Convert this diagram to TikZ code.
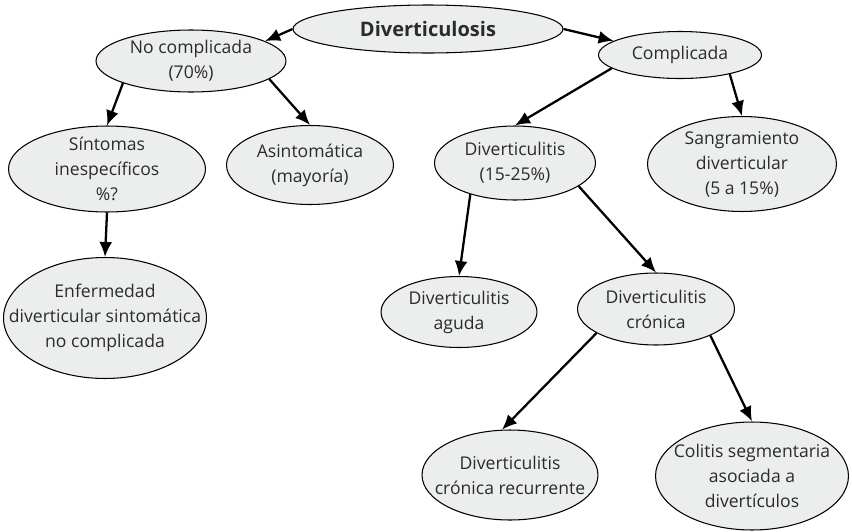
\documentclass[tikz,border=0pt]{standalone}
\usepackage{fontspec}
\setmainfont{Open Sans}
\usetikzlibrary{shapes.geometric,arrows.meta}
\definecolor{bubgray}{HTML}{ECEDED}
\definecolor{txtgray}{HTML}{2B2B2B}

\begin{document}
\begin{tikzpicture}[x=0.02cm,y=-0.02cm,
	lbl/.style={align=center,inner sep=0pt,text=txtgray,font=\fontsize{10}{14.2}\selectfont},
	bub/.style={ellipse,draw=black,line width=0.6pt,fill=bubgray,inner sep=0pt,label={[lbl]center:#1}},
	arr/.style={-{Latex[length=0.3cm,width=0.26cm]},line width=1.3pt}]
	\useasboundingbox (0,0) rectangle (852,531);
	
	%top
	\node[bub={\fontsize{11.4}{14}\selectfont\textbf{Diverticulosis}},minimum width=5.4cm,minimum height=0.96cm] (dvs) at (428,29) {};
	\node[bub={No complicada\\(70\%)},minimum width=3.8cm,minimum height=1.24cm] (noc) at (191,61) {};
	\node[bub={Complicada},minimum width=3.26cm,minimum height=0.94cm] (com) at (680,55) {};
	
	%left branch
	\node[bub={Síntomas\\inespecíficos\\\%?},minimum width=3.94cm,minimum height=1.72cm] (sin) at (107,169) {};
	\node[bub={Asintomática\\(mayoría)},minimum width=3.34cm,minimum height=1.58cm] (asi) at (310,165) {};
	\node[bub={Enfermedad\\diverticular sintomática\\no complicada},minimum width=4.06cm,minimum height=2.42cm] (enf) at (105,318) {};
	
	%right branch
	\node[bub={Diverticulitis\\(15-25\%)},minimum width=3.22cm,minimum height=1.48cm] (dtt) at (515,163) {};
	\node[bub={Sangramiento\\diverticular\\(5 a 15\%)},minimum width=3.78cm,minimum height=1.9cm] (san) at (742,164) {};
	\node[bub={Diverticulitis\\aguda},minimum width=3.12cm,minimum height=1.42cm] (agu) at (459,312) {};
	\node[bub={Diverticulitis\\crónica},minimum width=3.14cm,minimum height=1.44cm] (cro) at (656,309) {};
	\node[bub={Diverticulitis\\crónica recurrente},minimum width=3.52cm,minimum height=1.8cm] (rec) at (510,475) {};
	\node[bub={Colitis segmentaria\\asociada a\\divertículos},minimum width=3.86cm,minimum height=2.16cm] (col) at (752,476) {};
	
	%arrows
	\draw[arr] (dvs.180) -- (noc.15);
	\draw[arr] (dvs.0) -- (com.168);
	\draw[arr] (noc.198) -- (sin.north);
	\draw[arr] (noc.-13) -- (asi.north);
	\draw[arr] (sin.south) -- (enf.north);
	\draw[arr] (com.191) -- (dtt.north);
	\draw[arr] (com.-21) -- (san.north);
	\draw[arr] (dtt.215) -- (agu.north);
	\draw[arr] (dtt.-20) -- (cro.north);
	\draw[arr] (cro.202) -- (rec.100);
	\draw[arr] (cro.-26) -- (col.north);
\end{tikzpicture}
\end{document}
